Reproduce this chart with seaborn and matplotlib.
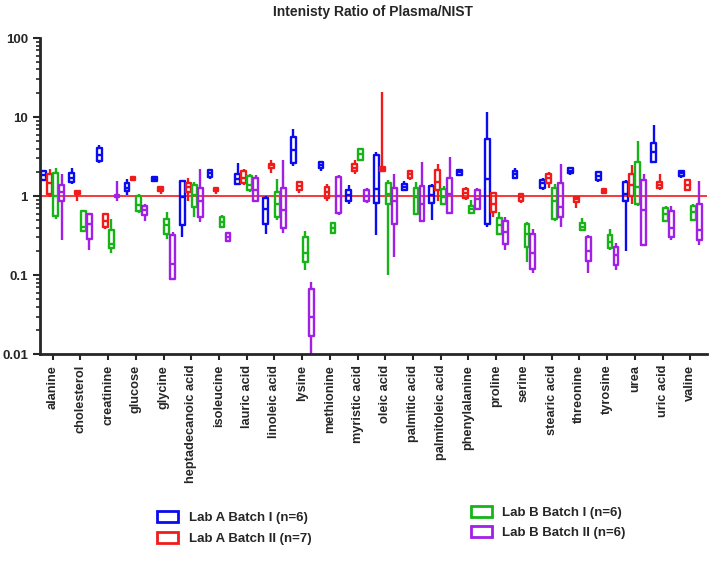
import pandas as pd
import matplotlib
matplotlib.use("Agg")
import matplotlib.pyplot as plt
from matplotlib.patches import Rectangle
from matplotlib.ticker import LogLocator, FixedLocator
import seaborn as sns

# compounds on the x axis
compounds = ["alanine", "cholesterol", "creatinine", "glucose", "glycine",
             "heptadecanoic acid", "isoleucine", "lauric acid", "linoleic acid",
             "lysine", "methionine", "myristic acid", "oleic acid", "palmitic acid",
             "palmitoleic acid", "phenylalanine", "proline", "serine", "stearic acid",
             "threonine", "tyrosine", "urea", "uric acid", "valine"]

groups = ["Lab A Batch I (n=6)", "Lab A Batch II (n=7)",
          "Lab B Batch I (n=6)", "Lab B Batch II (n=6)"]
colors = ["#0b0bef", "#f01c1c", "#17b417", "#a21fe6"]

# five number summaries (min, q1, median, q3, max)
lab_a_1 = [
    [1.55, 1.62, 1.85, 2.05, 2.1], [1.43, 1.5, 1.71, 1.95, 2.29], [2.62, 2.75, 3.35, 4.1, 4.4],
    [1.02, 1.16, 1.28, 1.46, 1.64], [1.49, 1.55, 1.65, 1.74, 1.76], [0.30, 0.43, 0.97, 1.55, 1.58],
    [1.66, 1.74, 1.95, 2.11, 2.22], [1.39, 1.43, 1.66, 1.88, 2.62], [0.33, 0.45, 0.68, 0.95, 0.99],
    [2.38, 2.62, 3.8, 5.6, 7.1], [2.1, 2.29, 2.5, 2.7, 2.72], [0.8, 0.88, 1.02, 1.2, 1.37],
    [0.32, 0.83, 1.24, 3.27, 3.6], [1.17, 1.2, 1.32, 1.43, 1.55], [0.5, 0.82, 1.02, 1.33, 1.41],
    [1.8, 1.83, 2.0, 2.16, 2.2], [0.41, 0.44, 1.66, 5.3, 11.6], [1.7, 1.71, 1.9, 2.07, 2.29],
    [1.2, 1.28, 1.45, 1.61, 1.71], [1.85, 1.95, 2.1, 2.29, 2.33], [1.5, 1.61, 1.8, 2.01, 2.05],
    [0.2, 0.88, 1.07, 1.49, 1.58], [2.65, 2.7, 3.6, 4.7, 7.85], [1.7, 1.78, 1.95, 2.07, 2.1],
]
lab_a_2 = [
    [0.97, 1.07, 1.46, 1.92, 2.22], [0.86, 1.05, 1.1, 1.15, 1.2], [0.38, 0.41, 0.49, 0.6, 0.61],
    [1.6, 1.62, 1.7, 1.77, 1.78], [1.07, 1.15, 1.22, 1.3, 1.33], [0.88, 1.12, 1.3, 1.46, 1.71],
    [1.07, 1.15, 1.2, 1.26, 1.3], [1.39, 1.46, 1.72, 2.05, 2.22], [1.95, 2.29, 2.45, 2.57, 2.83],
    [1.09, 1.2, 1.35, 1.5, 1.55], [0.87, 0.95, 1.12, 1.3, 1.41], [1.92, 2.07, 2.3, 2.52, 2.89],
    [2.07, 2.1, 2.2, 2.35, 20.7], [1.61, 1.71, 1.88, 2.05, 2.11], [0.88, 1.18, 1.5, 2.16, 2.52],
    [0.9, 0.95, 1.1, 1.24, 1.3], [0.55, 0.63, 0.8, 1.09, 1.12], [0.82, 0.88, 0.97, 1.05, 1.07],
    [1.28, 1.46, 1.7, 1.92, 2.01], [0.71, 0.84, 0.92, 0.97, 0.99], [1.08, 1.09, 1.15, 1.23, 1.24],
    [0.8, 0.99, 1.37, 1.88, 2.45], [1.2, 1.28, 1.4, 1.5, 1.88], [1.18, 1.18, 1.4, 1.61, 1.62],
]
lab_b_1 = [
    [0.52, 0.56, 1.0, 1.95, 2.3], [0.35, 0.36, 0.41, 0.65, 0.67], [0.19, 0.22, 0.25, 0.37, 0.52],
    [0.62, 0.65, 0.77, 0.99, 1.07], [0.29, 0.33, 0.43, 0.52, 0.63], [0.55, 0.73, 1.02, 1.39, 1.5],
    [0.39, 0.41, 0.47, 0.54, 0.57], [1.12, 1.18, 1.37, 1.78, 1.92], [0.5, 0.55, 0.8, 1.12, 1.66],
    [0.117, 0.146, 0.19, 0.30, 0.36], [0.33, 0.34, 0.39, 0.455, 0.465], [2.75, 2.83, 3.4, 3.98, 4.05],
    [0.1, 0.8, 1.07, 1.46, 1.61], [0.57, 0.59, 0.97, 1.28, 1.5], [0.77, 0.79, 0.97, 1.24, 1.33],
    [0.6, 0.61, 0.68, 0.76, 0.9], [0.33, 0.334, 0.43, 0.53, 0.63], [0.146, 0.226, 0.33, 0.447, 0.47],
    [0.48, 0.52, 0.88, 1.28, 1.43], [0.36, 0.368, 0.41, 0.455, 0.533], [0.206, 0.222, 0.26, 0.327, 0.387],
    [0.74, 0.8, 1.3, 2.7, 5.0], [0.47, 0.48, 0.6, 0.71, 0.74], [0.5, 0.503, 0.63, 0.76, 0.8],
]
lab_b_2 = [
    [0.28, 0.86, 1.12, 1.39, 1.92], [0.21, 0.29, 0.45, 0.59, 0.61], [0.86, 0.97, 1.0, 1.03, 1.55],
    [0.49, 0.57, 0.66, 0.76, 0.8], [0.087, 0.09, 0.14, 0.32, 0.35], [0.47, 0.55, 0.88, 1.28, 2.22],
    [0.26, 0.27, 0.30, 0.34, 0.35], [0.87, 0.88, 1.18, 1.71, 1.83], [0.34, 0.39, 0.66, 1.28, 2.83],
    [0.0095, 0.0168, 0.03, 0.066, 0.082], [0.57, 0.61, 1.0, 1.74, 1.83], [0.82, 0.87, 0.99, 1.18, 1.28],
    [0.17, 0.45, 0.88, 1.28, 1.92], [0.47, 0.48, 0.8, 1.33, 2.7], [0.6, 0.61, 1.07, 1.71, 3.11],
    [0.68, 0.69, 0.93, 1.18, 1.28], [0.21, 0.245, 0.35, 0.49, 0.54], [0.106, 0.12, 0.19, 0.33, 0.38],
    [0.41, 0.54, 0.73, 1.46, 2.52], [0.106, 0.15, 0.2, 0.3, 0.318], [0.117, 0.133, 0.18, 0.226, 0.254],
    [0.235, 0.238, 0.66, 1.61, 1.88], [0.28, 0.3, 0.39, 0.646, 0.74], [0.238, 0.28, 0.37, 0.785, 1.55],
]

# long table: five values per box give back the same quartiles with whis=(0, 100)
rows = []
for grp, stats in zip(groups, [lab_a_1, lab_a_2, lab_b_1, lab_b_2]):
    for comp, five in zip(compounds, stats):
        for v in five:
            rows.append({"compound": comp, "group": grp, "ratio": v})
df = pd.DataFrame(rows)

sns.set_style("ticks")
plt.rcParams["font.family"] = ["Liberation Sans", "DejaVu Sans"]
plt.rcParams["font.weight"] = "bold"

fig = plt.figure(figsize=(7.09, 5.76), dpi=100)
ax = fig.add_axes([0.056, 0.385, 0.941, 0.549])

ax.axhline(1, color="#f52a2a", lw=1.3, zorder=0)
sns.boxplot(data=df, x="compound", y="ratio", hue="group", order=compounds,
            hue_order=groups, palette=colors, fill=False, whis=(0, 100),
            showcaps=False, linewidth=1.7, width=0.86, gap=0.2,
            log_scale=(False, True), legend=False, ax=ax)

ax.set_ylim(0.01, 100)
ax.set_xlim(-0.47, 23.6)
ax.yaxis.set_major_locator(FixedLocator([0.01, 0.1, 1, 10, 100]))
ax.yaxis.set_minor_locator(LogLocator(base=10, subs=range(2, 10), numticks=20))
ax.set_yticklabels(["0.01", "0.1", "1", "10", "100"], fontsize=9.5, fontweight="bold")
ax.set_xticks(range(len(compounds)))
ax.set_xticklabels(compounds, rotation=90, fontsize=9.2, fontweight="bold")
ax.tick_params(axis="y", which="major", length=5, width=1.5)
ax.tick_params(axis="y", which="minor", length=3, width=1.2)
ax.tick_params(axis="x", length=4, width=1.5)
ax.set_xlabel("")
ax.set_ylabel("")
sns.despine(ax=ax)
ax.spines["left"].set_linewidth(2)
ax.spines["bottom"].set_linewidth(2)

ax.set_title("Intenisty Ratio of Plasma/NIST", fontsize=10, fontweight="bold", pad=16)

# legend with outlined square handles
handles = [Rectangle((0, 0), 1, 1, facecolor="white", edgecolor=c, lw=2) for c in colors]
fig.legend(handles[:2], groups[:2], loc="upper left", bbox_to_anchor=(0.205, 0.133),
           frameon=False, prop={"size": 9.5, "weight": "bold"}, handlelength=1.6,
           handleheight=0.9, labelspacing=0.55)
fig.legend(handles[2:], groups[2:], loc="upper left", bbox_to_anchor=(0.647, 0.142),
           frameon=False, prop={"size": 9.5, "weight": "bold"}, handlelength=1.6,
           handleheight=0.9, labelspacing=0.55)

fig.savefig("out.png", dpi=100)
